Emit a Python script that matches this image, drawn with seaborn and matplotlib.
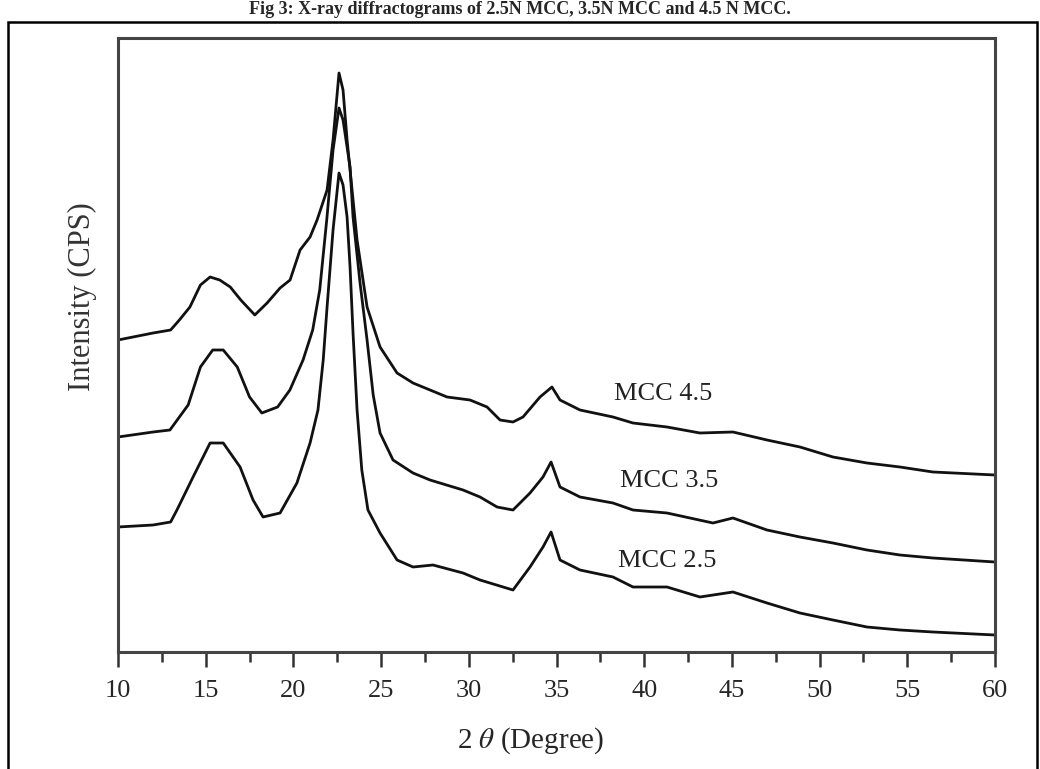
import matplotlib
matplotlib.use("Agg")
import numpy as np
import pandas as pd
import seaborn as sns
from matplotlib import pyplot as plt
from matplotlib.patches import Rectangle
from matplotlib.ticker import MultipleLocator

sns.set_style("ticks")
plt.rcParams["font.family"] = ["Liberation Serif", "DejaVu Serif"]
plt.rcParams["mathtext.fontset"] = "stix"

# Values (2 theta in degrees, intensity in a.u.)
two_theta_45 = [10, 12, 13, 13.5, 14.1, 14.7, 15.25, 15.8, 16.4, 17.0, 17.8, 18.5, 19.24,
                19.81, 20.38, 20.95, 21.35, 21.92, 22.26, 22.6, 22.83, 23.06, 23.63, 24.2,
                24.94, 25.91, 26.82, 27.79, 28.76, 30.07, 31.04, 31.78, 32.52, 33.09, 34.06,
                34.74, 35.2, 36.34, 38.22, 39.36, 41.3, 43.18, 45.06, 47.0, 48.88, 50.76,
                52.7, 54.58, 56.46, 60]
cps_45 = [312, 319, 322, 332, 345, 367, 375, 372, 365, 352, 337, 349, 364,
          372, 402, 415, 432, 462, 512, 579, 562, 512, 412, 345,
          305, 279, 269, 262, 255, 252, 245, 232, 230, 235, 255,
          265, 252, 242, 235, 229, 225, 219, 220, 212, 205, 195,
          189, 185, 180, 177]

two_theta_35 = [10, 12, 12.96, 14.0, 14.7, 15.4, 16.0, 16.8, 17.5, 18.2, 19.1, 19.8, 20.55,
                21.1, 21.5, 21.9, 22.26, 22.6, 22.83, 23.23, 23.4, 23.8, 24.2, 24.55, 24.94,
                25.68, 26.82, 27.79, 29.67, 30.64, 31.61, 32.52, 33.49, 34.23, 34.69, 35.2,
                36.34, 38.22, 39.36, 41.3, 43.92, 45.06, 47.0, 48.88, 50.76, 52.7, 54.58,
                56.46, 60]
cps_35 = [215, 220, 222, 247, 285, 302, 302, 285, 255, 239, 245, 262, 292,
          322, 362, 432, 502, 544, 532, 485, 435, 369, 312, 257, 219,
          192, 179, 172, 162, 155, 145, 142, 159, 175, 190, 165,
          155, 149, 142, 139, 129, 134, 122, 115, 109, 102, 97,
          94, 90]

two_theta_25 = [10, 12, 13, 13.36, 14.28, 15.25, 16.0, 16.96, 17.7, 18.27, 19.24, 20.2, 20.95,
                21.4, 21.7, 21.92, 22.26, 22.6, 22.83, 23.06, 23.23, 23.4, 23.63, 23.9, 24.25,
                24.94, 25.91, 26.82, 27.96, 29.67, 30.64, 32.52, 33.49, 34.23, 34.69, 35.2,
                36.34, 38.22, 39.36, 41.3, 43.18, 45.06, 47.0, 48.88, 50.76, 52.7, 54.58,
                56.46, 60]
cps_25 = [125, 127, 130, 142, 175, 209, 209, 185, 152, 135, 139, 169, 209,
          242, 292, 345, 422, 479, 467, 435, 385, 319, 242, 182, 142,
          119, 92, 85, 87, 79, 72, 62, 85, 105, 120, 92,
          82, 75, 65, 65, 55, 60, 49, 39, 32, 25, 22,
          20, 17]

samples = ["MCC 4.5", "MCC 3.5", "MCC 2.5"]
label_pos = [(38.3, 258), (38.6, 171), (38.5, 91)]

df = pd.concat([
    pd.DataFrame({"sample": name, "two_theta": x, "cps": y})
    for name, x, y in zip(samples,
                          [two_theta_45, two_theta_35, two_theta_25],
                          [cps_45, cps_35, cps_25])
])

fig = plt.figure(figsize=(10.4, 7.69), dpi=100)
ax = fig.add_axes([118 / 1040, 117 / 769, 877 / 1040, 614 / 769])

sns.lineplot(data=df, x="two_theta", y="cps", units="sample", estimator=None,
             color="#111111", lw=2.0, ax=ax)

for name, (lx, ly) in zip(samples, label_pos):
    ax.text(lx, ly, name, fontsize=19, va="center", ha="left", color="#222222")

ax.set_xlim(10, 60)
ax.set_ylim(0, 614)
ax.xaxis.set_major_locator(MultipleLocator(5))
ax.xaxis.set_minor_locator(MultipleLocator(2.5))
ax.set_yticks([])
ax.tick_params(axis="x", which="major", direction="out", length=11, width=1.8,
               labelsize=19, color="#333333", pad=9)
ax.tick_params(axis="x", which="minor", direction="out", length=7, width=1.8,
               color="#333333")
for sp in ax.spines.values():
    sp.set_visible(True)
    sp.set_linewidth(2.2)
    sp.set_color("#444444")

ax.set_xlabel(r"2 $\theta$ (Degree)", fontsize=21)
ax.set_ylabel("Intensity (CPS)", fontsize=22, color="#333333")
ax.xaxis.set_label_coords(0.47, -0.12)
ax.yaxis.set_label_coords(-0.024, 0.578)

# outer frame and caption of the source document
fig.add_artist(Rectangle((8 / 1040, -0.02), 1029 / 1040, 1.02 - 22 / 769,
                         transform=fig.transFigure, fill=False, lw=1.8,
                         edgecolor="black"))
fig.text(0.5, 1 - 9 / 769, "Fig 3: X-ray diffractograms of 2.5N MCC, 3.5N MCC and 4.5 N MCC.",
         ha="center", va="center", fontsize=13, fontweight="bold")

fig.savefig("out.png", dpi=100)
